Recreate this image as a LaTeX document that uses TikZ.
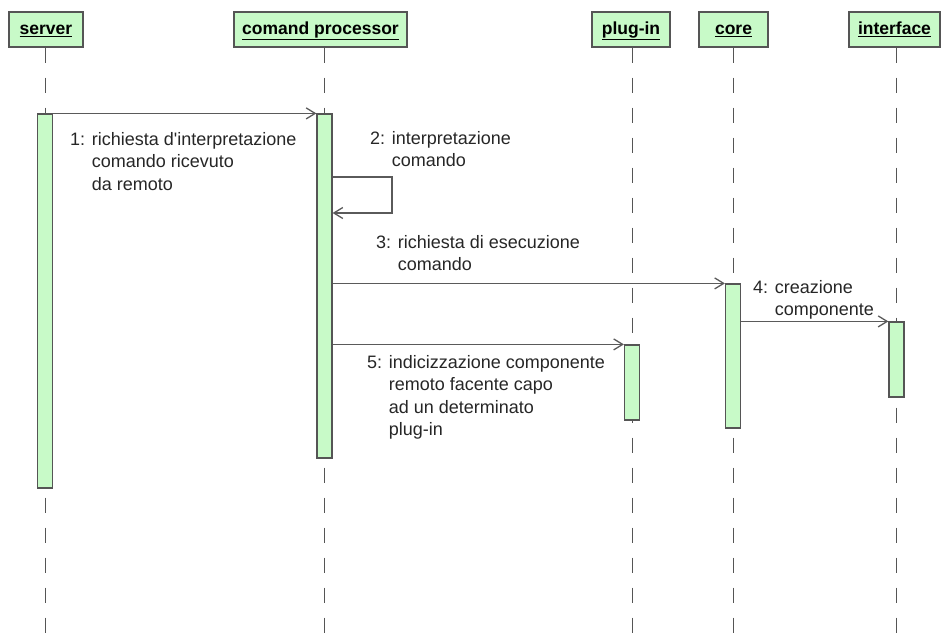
\documentclass[tikz,border=0pt]{standalone}
\usepackage{fontspec}
\setmainfont{Liberation Sans}
\usetikzlibrary{arrows.meta}

\definecolor{barfill}{RGB}{200,250,200}
\definecolor{edgegray}{RGB}{85,85,85}
\definecolor{msggray}{RGB}{90,90,90}

\begin{document}
\begin{tikzpicture}[x=1pt,y=-1pt,
    head/.style={draw=edgegray,line width=1.2pt,fill=barfill,minimum height=35pt,
        inner sep=0pt,text height=13pt,text depth=3pt,
        font=\fontsize{17.5}{20}\selectfont\bfseries},
    lifeline/.style={draw=edgegray,line width=1pt,dash pattern=on 15pt off 15pt},
    bar/.style={draw=edgegray,line width=1.2pt,fill=barfill,minimum width=15pt,inner sep=0pt},
    msg/.style={draw=msggray,line width=1.3pt,-{Straight Barb[length=9pt,width=11pt]}},
    lbl/.style={anchor=base west,inner sep=0pt,text=black!85,font=\fontsize{18}{22.5}\selectfont}]
    \useasboundingbox (0,0) rectangle (946,635);

    % heads of the lifelines
    \node[head,minimum width=74pt]  (srv)  at (46,29.5)  {\underline{server}};
    \node[head,minimum width=173pt] (cp)   at (320.5,29.5) {\underline{comand processor}};
    \node[head,minimum width=78pt]  (plug) at (631,29.5) {\underline{plug-in}};
    \node[head,minimum width=69pt]  (core) at (733.5,29.5) {\underline{core}};
    \node[head,minimum width=91pt]  (ifc)  at (894.5,29.5) {\underline{interface}};

    \foreach \n/\x in {srv/45,cp/324,plug/632,core/733,ifc/896}{
        \coordinate (\n end) at (\x,635);
        \draw[lifeline] (\x,0 |- \n.south) -- (\n end);
    }

    % activations
    \node[bar,minimum height=374pt] (srvbar)  at (45,301)    {};
    \node[bar,minimum height=344pt] (cpbar)   at (324.5,286) {};
    \node[bar,minimum height=75pt]  (plugbar) at (632,382.5) {};
    \node[bar,minimum height=144pt] (corebar) at (733,356)   {};
    \node[bar,minimum height=75pt]  (ifcbar)  at (896.5,359.5) {};

    % messages
    \draw[msg] (srvbar.north east) -- (cpbar.north west);
    \coordinate (selfA) at (392,177);
    \coordinate (selfB) at (392,213);
    \draw[msg] (cpbar.east |- selfA) -- (selfA) -- (selfB) -- (cpbar.east |- selfB);
    \draw[msg] (cpbar.east |- corebar.north) -- (corebar.north west);
    \draw[msg] (corebar.east |- ifcbar.north) -- (ifcbar.north west);
    \draw[msg] (cpbar.east |- plugbar.north) -- (plugbar.north west);

    \node[lbl] (lbl1) at (70,145) {\begin{tabular}[t]{@{}l@{ }l@{}}1: & richiesta d\textquotesingle interpretazione\\ & comando ricevuto\\ & da remoto\end{tabular}};
    \node[lbl] (lbl2) at (370,144) {\begin{tabular}[t]{@{}l@{ }l@{}}2: & interpretazione\\ & comando\end{tabular}};
    \node[lbl] (lbl3) at (376,248) {\begin{tabular}[t]{@{}l@{ }l@{}}3: & richiesta di esecuzione\\ & comando\end{tabular}};
    \node[lbl] (lbl4) at (753,293) {\begin{tabular}[t]{@{}l@{ }l@{}}4: & creazione\\ & componente\end{tabular}};
    \node[lbl] (lbl5) at (367,368) {\begin{tabular}[t]{@{}l@{ }l@{}}5: & indicizzazione componente\\ & remoto facente capo\\ & ad un determinato\\ & plug-in\end{tabular}};
\end{tikzpicture}
\end{document}
